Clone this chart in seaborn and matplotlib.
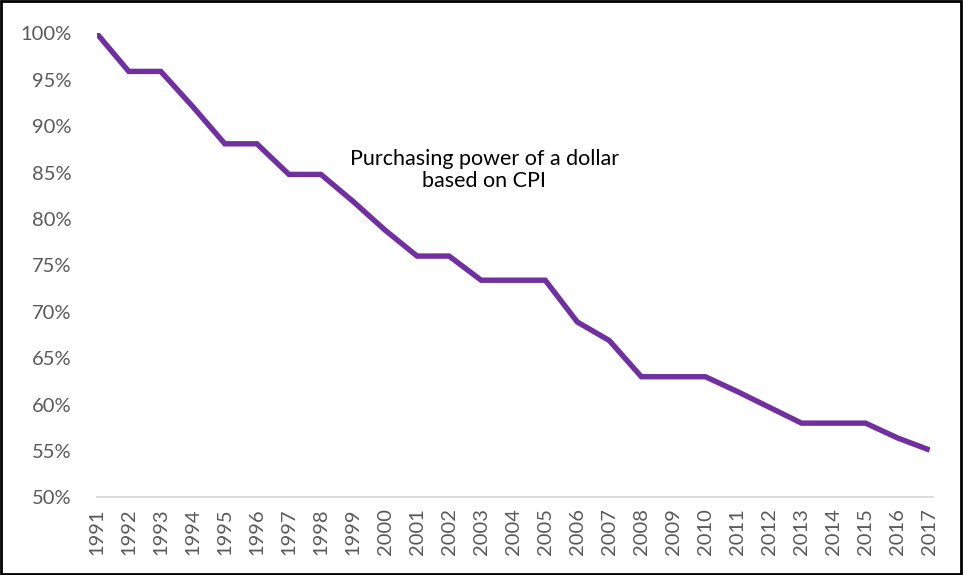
import matplotlib
matplotlib.use("Agg")
import matplotlib.pyplot as plt
import seaborn as sns
import pandas as pd
from matplotlib.patches import Rectangle
from matplotlib.ticker import FuncFormatter

years = list(range(1991, 2018))
power = [100.0, 95.9, 95.9, 92.1, 88.1, 88.1, 84.8, 84.8, 81.9, 78.8,
         76.0, 76.0, 73.4, 73.4, 73.4, 68.9, 66.9, 63.0, 63.0, 63.0,
         61.4, 59.7, 58.0, 58.0, 58.0, 56.4, 55.1]
y_ticks = [50, 55, 60, 65, 70, 75, 80, 85, 90, 95, 100]
annotation = "Purchasing power of a dollar\nbased on CPI"

df = pd.DataFrame({"year": years, "power": power})

sns.set_theme(style="white")
plt.rcParams["font.family"] = ["Lato", "DejaVu Sans"]

fig = plt.figure(figsize=(9.63, 5.75), dpi=100)
ax = fig.add_axes([0.1004, 0.135, 0.865, 0.807])

sns.lineplot(data=df, x="year", y="power", ax=ax, color="#7030A0",
             linewidth=3.9, solid_joinstyle="miter", solid_capstyle="butt")

ax.set_xlim(1991, 2017)
ax.set_ylim(50, 100)
ax.set_xticks(years)
ax.set_xticklabels([str(y) for y in years], rotation=90)
ax.set_yticks(y_ticks)
ax.yaxis.set_major_formatter(FuncFormatter(lambda v, p: f"{int(v)}%"))
ax.tick_params(axis="both", length=0, colors="#595959", labelsize=14.5)
ax.tick_params(axis="y", pad=18)
ax.tick_params(axis="x", pad=8)
ax.set_xlabel("")
ax.set_ylabel("")
for s in ["top", "right", "left"]:
    ax.spines[s].set_visible(False)
ax.spines["bottom"].set_color("#D9D9D9")
ax.spines["bottom"].set_linewidth(1.3)
ax.spines["bottom"].set_bounds(1991, 2017.1)

ax.text(2003.1, 85.3, annotation, ha="center", va="center", fontsize=15.5,
        color="black", linespacing=1.15)

fig.patches.append(Rectangle((0.001, 0.002), 0.997, 0.996, transform=fig.transFigure,
                             fill=False, edgecolor="black", linewidth=2))

fig.savefig("out.png", dpi=100)
